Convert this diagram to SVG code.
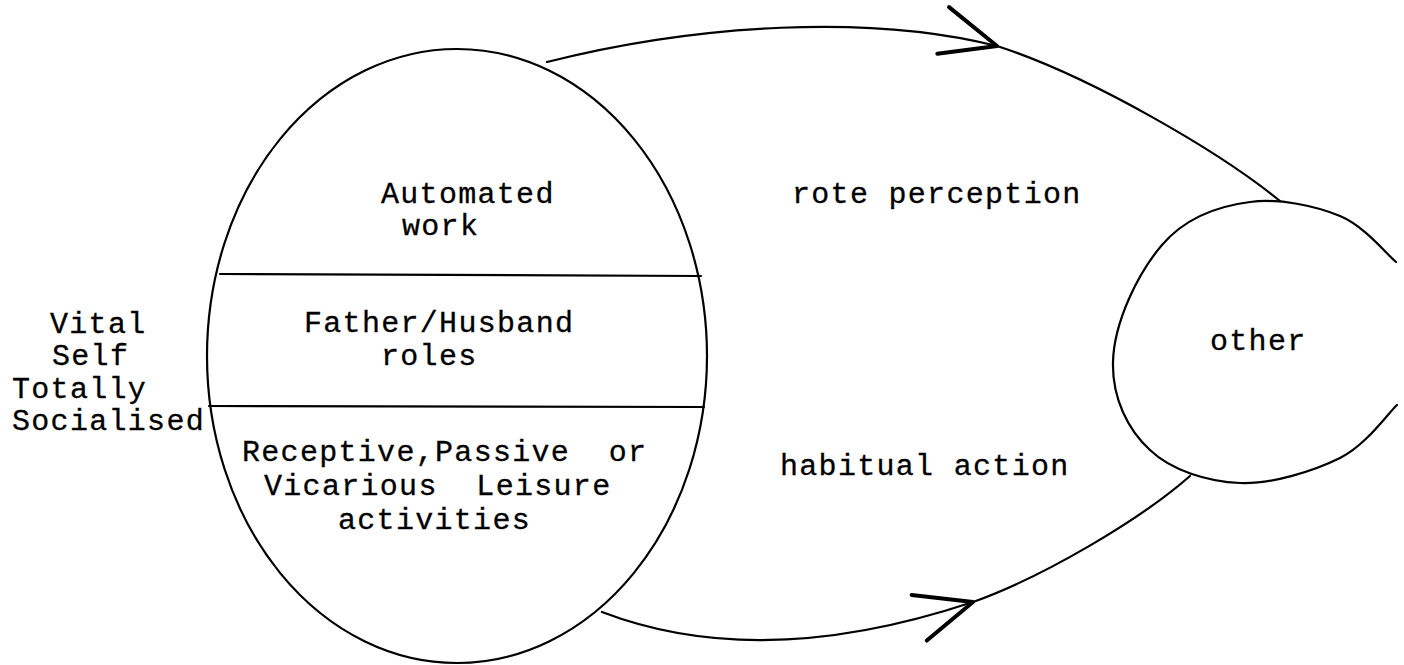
<svg xmlns="http://www.w3.org/2000/svg" width="1404" height="665" viewBox="0 0 1404 665">
  <style>
    .ln { fill: none; stroke: #000; stroke-width: 2.2; stroke-linecap: round; stroke-linejoin: round; }
    .tx { font-family: "Liberation Mono", "DejaVu Sans Mono", monospace; font-size: 30px; letter-spacing: 1.3px; fill: #000; stroke: #000; stroke-width: 0.3; }
  </style>
  <defs>
    <marker id="barb" markerUnits="userSpaceOnUse" viewBox="-62 -32 66 64" refX="0" refY="0" markerWidth="66" markerHeight="64" orient="auto" overflow="visible">
      <path d="M0,0 L-56,-26 M0,0 L-56,22" fill="none" stroke="#000" stroke-width="4" stroke-linecap="round"/>
    </marker>
  </defs>
  <rect width="1404" height="665" fill="#fff"/>

  <g id="connectors">
    <path class="ln" d="M547,62 C697,24 870,14 997,46" marker-end="url(#barb)"/>
    <path class="ln" d="M997,46 C1090,76 1220,152 1280,201"/>
    <path class="ln" d="M602,612 C722,658 853,642 973,602" marker-end="url(#barb)"/>
    <path class="ln" d="M973,602 C1043,577 1140,520 1190,476"/>
    <text class="tx" x="792" y="203">rote perception</text>
    <text class="tx" x="780" y="475">habitual action</text>
  </g>

  <g id="vital-self">
    <ellipse class="ln" cx="457" cy="356" rx="250" ry="307"/>
    <line class="ln" x1="220" y1="274" x2="701" y2="276"/>
    <line class="ln" x1="209" y1="406" x2="704" y2="407"/>
    <text class="tx" x="381" y="203">Automated</text>
    <text class="tx" x="402" y="235">work</text>
    <text class="tx" x="304" y="332">Father/Husband</text>
    <text class="tx" x="381" y="365">roles</text>
    <text class="tx" x="242" y="461" xml:space="preserve">Receptive,Passive  or</text>
    <text class="tx" x="264" y="495" xml:space="preserve">Vicarious  Leisure</text>
    <text class="tx" x="338" y="529">activities</text>
  </g>

  <g id="side-label">
    <text class="tx" x="50" y="333">Vital</text>
    <text class="tx" x="52" y="365">Self</text>
    <text class="tx" x="12" y="398">Totally</text>
    <text class="tx" x="12" y="430">Socialised</text>
  </g>

  <g id="other">
    <path class="ln" d="M1396,262 C1386.7,254.3 1364.3,226 1340,216 C1315.7,206 1279.2,198 1250,202 C1218,206 1185,218 1162,245 C1138,273 1114,322 1113,362 C1112,398 1128,430 1150,450 C1171.2,470.5 1208.3,481.7 1240,483 C1271.7,484.3 1313.8,471 1340,458 C1366.2,445 1387.5,413.8 1397,405"/>
    <text class="tx" x="1210" y="350">other</text>
  </g>
</svg>
